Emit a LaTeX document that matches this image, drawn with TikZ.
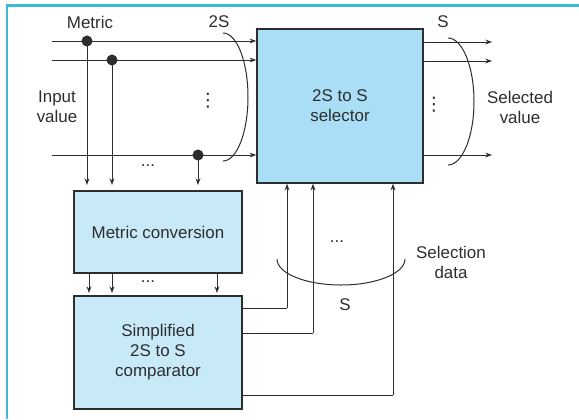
\documentclass[tikz,border=0pt]{standalone}
\usepackage{fontspec}
\setmainfont{Liberation Sans}
\newfontfamily\dejavu{DejaVu Sans}
\usetikzlibrary{arrows.meta}
\definecolor{framec}{RGB}{60,185,215}
\definecolor{selfill}{RGB}{170,222,246}
\definecolor{boxfill}{RGB}{200,233,248}
\definecolor{ink}{RGB}{45,45,45}
\tikzset{
  lbl/.style={font=\fontsize{12.7}{15}\selectfont, text=ink, inner sep=0pt, align=center},
  blk/.style={draw=ink, line width=1.1pt, inner sep=0pt, lbl},
  arr/.style={draw=ink, line width=0.75pt, -{Stealth[length=5pt,width=3.6pt]}},
  ln/.style={draw=ink, line width=0.75pt},
  dotn/.style={circle, fill=ink, minimum size=8.3pt, inner sep=0pt},
  brace/.style={draw=ink, line width=0.75pt}
}
\begin{document}
\begin{tikzpicture}[x=0.75pt,y=-0.75pt]
\useasboundingbox (0,0) rectangle (579,419);
% frame
\draw[framec, line width=1.6pt] (7,419) -- (7,5.5) -- (579,5.5);
% blocks
\node[blk, fill=selfill, minimum width=124.5pt, minimum height=115.5pt] (sel) at (340,106) {2S to S\\selector};
\node[blk, fill=boxfill, minimum width=126pt, minimum height=61.5pt] (mc) at (158,232) {Metric conversion};
\node[blk, fill=boxfill, minimum width=126pt, minimum height=84.75pt] (cmp) at (158,352.5) {Simplified\\2S to S\\comparator};
% input lines
\coordinate (i1) at (52,41);
\coordinate (i2) at (52,60);
\coordinate (i3) at (52,155);
\draw[arr] (i1) -- (i1 -| sel.west);
\draw[arr] (i2) -- (i2 -| sel.west);
\draw[arr] (i3) -- (i3 -| sel.west);
\node[dotn] (d1) at (87,41) {};
\node[dotn] (d2) at (112,60) {};
\node[dotn] (d3) at (198,155) {};
\coordinate (t1) at (87,185);
\coordinate (t2) at (112,185);
\coordinate (t3) at (198,185);
\draw[arr] (d1.center) -- (t1);
\draw[arr] (d2.center) -- (t2);
\draw[arr] (d3.center) -- (t3);
% metric conv to comparator
\coordinate (m1) at (89,293);
\coordinate (m2) at (112,293);
\coordinate (m3) at (217,293);
\draw[arr] (m1 |- mc.south) -- (m1);
\draw[arr] (m2 |- mc.south) -- (m2);
\draw[arr] (m3 |- mc.south) -- (m3);
% outputs
\coordinate (o1) at (492,42);
\coordinate (o2) at (492,61);
\coordinate (o3) at (492,155);
\draw[arr] (o1 -| sel.east) -- (o1);
\draw[arr] (o2 -| sel.east) -- (o2);
\draw[arr] (o3 -| sel.east) -- (o3);
% selection data
\coordinate (u1) at (287,308);
\coordinate (u2) at (313,333);
\coordinate (u3) at (393,395);
\draw[ln] (u1 -| cmp.east) -- (u1);
\draw[arr] (u1) -- (u1 |- sel.south);
\draw[ln] (u2 -| cmp.east) -- (u2);
\draw[arr] (u2) -- (u2 |- sel.south);
\draw[ln] (u3 -| cmp.east) -- (u3);
\draw[arr] (u3) -- (u3 |- sel.south);
% braces
\draw[brace] (223,33) arc[start angle=90, end angle=-90, x radius=25, y radius=-64];
\draw[brace] (448,38) arc[start angle=90, end angle=-90, x radius=26, y radius=-63.5];
\draw[brace] (277,259) arc[start angle=180, end angle=360, x radius=64, y radius=-26];
% labels
\node[lbl] (lmetric) at (90,22) {Metric};
\node[lbl] (l2s) at (219,22) {2S};
\node[lbl] (ls) at (443,22) {S};
\node[lbl] (lin) at (57,107) {Input\\value};
\node[lbl] (lsel) at (520,107) {Selected\\value};
\node[lbl, font=\dejavu\fontsize{14}{16}\selectfont] (vd1) at (208,101) {⋮};
\node[lbl, font=\dejavu\fontsize{14}{16}\selectfont] (vd2) at (434,105) {⋮};
\node[lbl] (hd1) at (148,166) {...};
\node[lbl] (hd2) at (148,282) {...};
\node[lbl] (hd3) at (337,242) {...};
\node[lbl] (lsd) at (451,262) {Selection\\data};
\node[lbl] (ls2) at (345,305) {S};
\end{tikzpicture}
\end{document}
